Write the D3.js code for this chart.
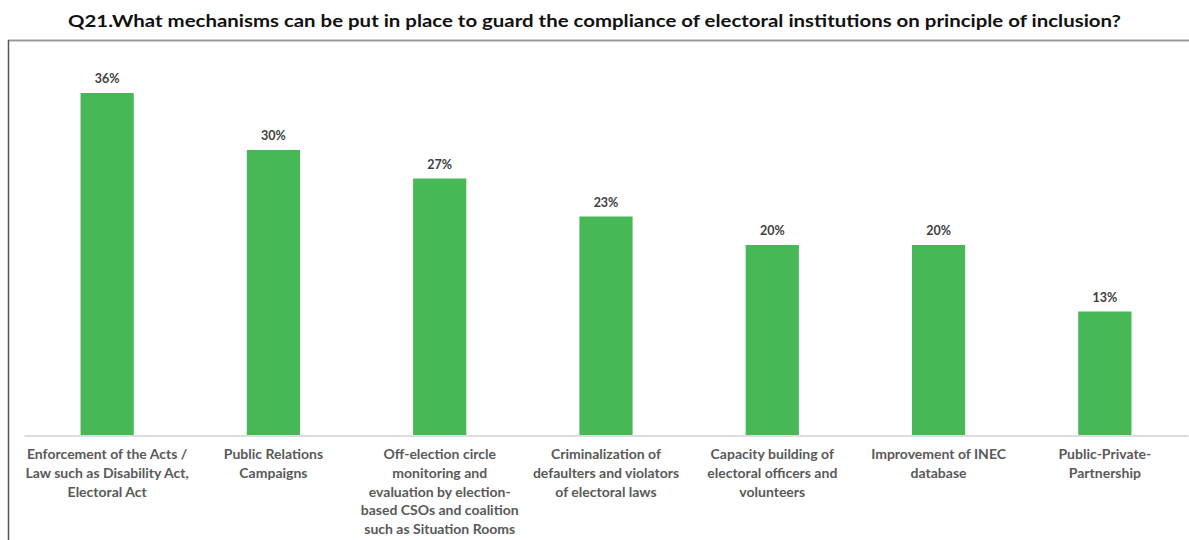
<!DOCTYPE html>
<html>
<head>
<meta charset="utf-8">
<script src="https://cdn.jsdelivr.net/npm/d3@7"></script>
<style>
  body { margin: 0; background: #fff; }
  svg { display: block; }
</style>
</head>
<body>
<svg id="chart" width="1189" height="540"></svg>
<script>
// data
const titleText = "Q21.What mechanisms can be put in place to guard the compliance of electoral institutions on principle of inclusion?";
const categories = [
  ["Enforcement of the Acts /", "Law such as Disability Act,", "Electoral Act"],
  ["Public Relations", "Campaigns"],
  ["Off-election circle", "monitoring and", "evaluation by election-", "based CSOs and coalition", "such as Situation Rooms"],
  ["Criminalization of", "defaulters and violators", "of electoral laws"],
  ["Capacity building of", "electoral officers and", "volunteers"],
  ["Improvement of INEC", "database"],
  ["Public-Private-", "Partnership"]
];
const values = [36, 30, 27, 23, 20, 20, 13];

const width = 1189, height = 540;
const margin = { top: 93, bottom: 105, left: 24, right: 1 };

const svg = d3.select("#chart");
const keys = categories.map((c, i) => i);

const xscale = d3.scaleBand()
  .domain(keys)
  .range([margin.left, width - margin.right])
  .paddingInner(0.68)
  .paddingOuter(0.34);

const yscale = d3.scaleLinear()
  .domain([0, d3.max(values)])
  .range([height - margin.bottom, margin.top]);

// frame
svg.append("line")
  .attr("x1", 8).attr("x2", width)
  .attr("y1", 40.5).attr("y2", 40.5)
  .attr("stroke", "#9a9a9a").attr("stroke-width", 2);
svg.append("line")
  .attr("x1", 8.5).attr("x2", 8.5)
  .attr("y1", 40).attr("y2", height)
  .attr("stroke", "#555").attr("stroke-width", 1.5);

// title
svg.append("text")
  .text(titleText)
  .attr("x", width / 2)
  .attr("y", 27)
  .attr("text-anchor", "middle")
  .attr("font-family", "Lato, 'Open Sans', sans-serif")
  .attr("font-weight", "bold")
  .attr("font-size", 17)
  .attr("fill", "#111")
  .attr("textLength", 1053)
  .attr("lengthAdjust", "spacingAndGlyphs");

// bars
svg.selectAll("rect.bar")
  .data(values)
  .enter()
  .append("rect")
  .attr("class", "bar")
  .attr("x", (d, i) => xscale(i))
  .attr("width", xscale.bandwidth())
  .attr("y", d => yscale(d))
  .attr("height", d => yscale(0) - yscale(d))
  .attr("fill", "#47b856");

// x axis
const xAxis = d3.axisBottom(xscale).tickSize(0).tickFormat("");
const gx = svg.append("g")
  .attr("transform", `translate(0, ${yscale(0) + 0.5})`)
  .call(xAxis);
gx.select(".domain").attr("stroke", "#d0d0d0").attr("stroke-width", 1.5);

// category labels
const labels = svg.selectAll("text.cat")
  .data(categories)
  .enter()
  .append("text")
  .attr("class", "cat")
  .attr("text-anchor", "middle")
  .attr("font-family", "Lato, 'Open Sans', sans-serif")
  .attr("font-weight", "bold")
  .attr("font-size", 14)
  .attr("fill", "#595959")
  .attr("x", (d, i) => xscale(i) + xscale.bandwidth() / 2)
  .attr("y", yscale(0) + 24);

labels.selectAll("tspan")
  .data(d => d)
  .enter()
  .append("tspan")
  .attr("x", function () { return d3.select(this.parentNode).attr("x"); })
  .attr("dy", (d, i) => i === 0 ? 0 : 18.8)
  .text(d => d);

// value labels
svg.selectAll("text.val")
  .data(values)
  .enter()
  .append("text")
  .attr("class", "val")
  .attr("text-anchor", "middle")
  .attr("font-family", "Lato, 'Open Sans', sans-serif")
  .attr("font-weight", "bold")
  .attr("font-size", 12.5)
  .attr("fill", "#404040")
  .attr("x", (d, i) => xscale(i) + xscale.bandwidth() / 2)
  .attr("y", d => yscale(d) - 10)
  .text(d => d + "%");
</script>
</body>
</html>
